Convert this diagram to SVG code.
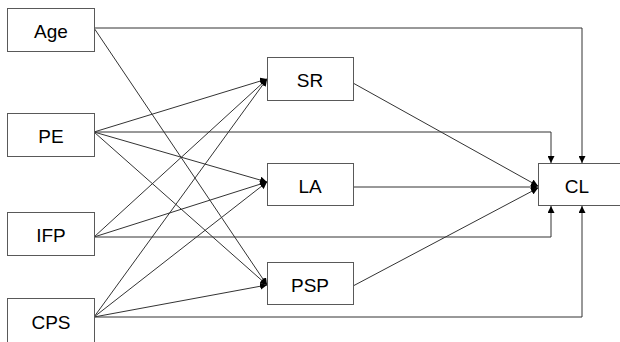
<svg xmlns="http://www.w3.org/2000/svg" width="620" height="342" viewBox="0 0 620 342">
<defs>
<marker id="ah" viewBox="0 0 10 10" refX="10" refY="5" markerWidth="7" markerHeight="7" markerUnits="userSpaceOnUse" orient="auto">
<path d="M0,0 L10,5 L0,10 Z" fill="#000"/>
</marker>
<style>
.box{fill:#fff;stroke:#595959;stroke-width:1}
.lbl{font-family:"Liberation Sans",Arial,sans-serif;font-size:19px;fill:#000;text-anchor:middle;dominant-baseline:central}
.c{fill:none;stroke:#333;stroke-width:1;marker-end:url(#ah)}
</style>
</defs>
<rect width="620" height="342" fill="#fff"/>
<g id="connectors">
<polyline class="c" points="94,28 582,28 582,163"/>
<line class="c" x1="94" y1="28" x2="267" y2="285"/>
<line class="c" x1="94" y1="132" x2="267" y2="79"/>
<polyline class="c" points="94,132 551,132 551,163"/>
<line class="c" x1="94" y1="132" x2="267" y2="182"/>
<line class="c" x1="94" y1="132" x2="267" y2="285"/>
<line class="c" x1="94" y1="237" x2="267" y2="79"/>
<line class="c" x1="94" y1="237" x2="267" y2="182"/>
<polyline class="c" points="94,237 551,237 551,206"/>
<line class="c" x1="94" y1="317" x2="267" y2="79"/>
<line class="c" x1="94" y1="317" x2="267" y2="182"/>
<line class="c" x1="94" y1="317" x2="267" y2="285"/>
<polyline class="c" points="94,317 582,317 582,206"/>
<line class="c" x1="353" y1="83" x2="538" y2="186"/>
<line class="c" x1="353" y1="187" x2="538" y2="187"/>
<line class="c" x1="353" y1="286" x2="538" y2="188"/>
</g>
<g id="age"><rect class="box" x="7.5" y="8.5" width="87" height="43"/><text class="lbl" x="51" y="31">Age</text></g>
<g id="pe"><rect class="box" x="7.5" y="113.5" width="87" height="43"/><text class="lbl" x="51" y="136">PE</text></g>
<g id="ifp"><rect class="box" x="7.5" y="212.5" width="87" height="43"/><text class="lbl" x="51" y="235">IFP</text></g>
<g id="cps"><rect class="box" x="7.5" y="298.5" width="87" height="46"/><text class="lbl" x="51" y="322">CPS</text></g>
<g id="sr"><rect class="box" x="267.5" y="57.5" width="86" height="43"/><text class="lbl" x="310" y="80">SR</text></g>
<g id="la"><rect class="box" x="267.5" y="163.5" width="86" height="42"/><text class="lbl" x="310" y="186">LA</text></g>
<g id="psp"><rect class="box" x="267.5" y="262.5" width="86" height="42"/><text class="lbl" x="310" y="285">PSP</text></g>
<g id="cl"><rect class="box" x="538.5" y="163.5" width="86" height="42"/><text class="lbl" x="577" y="186">CL</text></g>
</svg>
